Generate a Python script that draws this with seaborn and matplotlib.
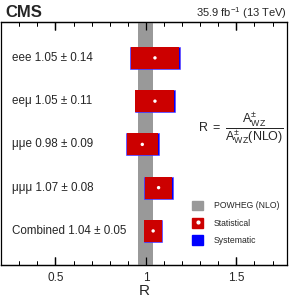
import numpy as np
import pandas as pd
import matplotlib
matplotlib.use("Agg")
import matplotlib.pyplot as plt
import seaborn as sns
from matplotlib.patches import Patch
from matplotlib.lines import Line2D

channels = ["eee", "ee\u03bc", "\u03bc\u03bce", "\u03bc\u03bc\u03bc", "Combined"]
ratio = [1.05, 1.05, 0.98, 1.07, 1.04]
total_err = [0.14, 0.11, 0.09, 0.08, 0.05]
stat_err = [0.132, 0.108, 0.085, 0.073, 0.048]
ypos = [5, 4, 3, 2, 1]
powheg_lo, powheg_hi = 0.955, 1.04
major_ticks = [0.5, 1.0, 1.5]
major_labels = ["0.5", "1", "1.5"]
minor_ticks = np.arange(0.3, 1.75, 0.1)

df = pd.DataFrame({"channel": channels, "R": ratio, "tot": total_err,
                   "stat": stat_err, "y": ypos})

sns.set_style("ticks")
plt.rcParams['font.family'] = ['Liberation Sans', 'DejaVu Sans']
plt.rcParams['mathtext.fontset'] = 'custom'
plt.rcParams['mathtext.rm'] = 'Liberation Sans'
plt.rcParams['mathtext.it'] = 'Liberation Sans:italic'
plt.rcParams['axes.axisbelow'] = False

fig, ax = plt.subplots(figsize=(2.92, 3.01), dpi=100)
fig.subplots_adjust(left=0.004, right=0.983, bottom=0.12, top=0.927)

ax.axvspan(powheg_lo, powheg_hi, color="#999999", lw=0, zorder=1)
h = 0.51
ax.barh(df.y, 2 * df.tot, left=df.R - df.tot, height=h, color="#0000ff",
        edgecolor="#5a3cff", lw=0.4, zorder=2)
ax.barh(df.y, 2 * df.stat, left=df.R - df.stat, height=h, color="#cc0000",
        lw=0, zorder=3)
sns.scatterplot(data=df, x="R", y="y", color="white", s=6, edgecolor="none",
                ax=ax, zorder=4, legend=False)

for _, r in df.iterrows():
    ax.text(0.038, r.y, f"{r.channel} {r.R:.2f} \u00b1 {r.tot:.2f}",
            transform=ax.get_yaxis_transform(), va="center", ha="left",
            fontsize=8.4)

ax.text(0.84, 0.565, r"$\mathrm{R\ =\ }\dfrac{\mathrm{A^{\pm}_{WZ}}}{\mathrm{A^{\pm}_{WZ}(NLO)}}$",
        transform=ax.transAxes, ha="center", va="center", fontsize=9)

handles = [Patch(color="#999999"),
           (Patch(color="#cc0000"), Line2D([], [], marker="o", ls="", color="white", ms=2)),
           Patch(color="#0000ff")]
ax.legend(handles, ["POWHEG (NLO)", "Statistical", "Systematic"],
          loc="lower right", bbox_to_anchor=(1.0, 0.05), frameon=False,
          fontsize=6.2, handlelength=1.3, handleheight=1.4, labelspacing=0.85,
          handletextpad=1.2)

fig.text(0.02, 0.96, "CMS", fontsize=12, fontweight="bold", ha="left", va="center")
fig.text(0.983, 0.955, r"35.9 fb$^{\mathrm{-1}}$ (13 TeV)", fontsize=8,
         ha="right", va="center")

ax.set_xlim(0.2, 1.78)
ax.set_ylim(0.215, 5.83)
ax.set_yticks([])
ax.set_ylabel("")
ax.set_xticks(major_ticks, major_labels, fontsize=8.5)
ax.set_xticks(minor_ticks, minor=True)
ax.tick_params(axis="x", which="major", direction="in", length=6, width=0.9,
               color="black", top=True, bottom=True, pad=5)
ax.tick_params(axis="x", which="minor", direction="in", length=3, width=0.7,
               color="black", top=True, bottom=True)
ax.set_xlabel("R", fontsize=11, labelpad=0)
for s in ax.spines.values():
    s.set_linewidth(0.9)
    s.set_color("black")

# extra tick rows on both edges (same positions, no labels)
for loc in ("top", "bottom"):
    sec = ax.secondary_xaxis(loc)
    sec.set_ticks(major_ticks, labels=["", "", ""])
    sec.set_ticks(minor_ticks, minor=True)
    sec.tick_params(axis="x", which="major", direction="in", length=6,
                    width=0.9, color="black")
    sec.tick_params(axis="x", which="minor", direction="in", length=3,
                    width=0.7, color="black")
    sec.spines[loc].set_linewidth(0.9)

fig.savefig("out.png", dpi=100)
